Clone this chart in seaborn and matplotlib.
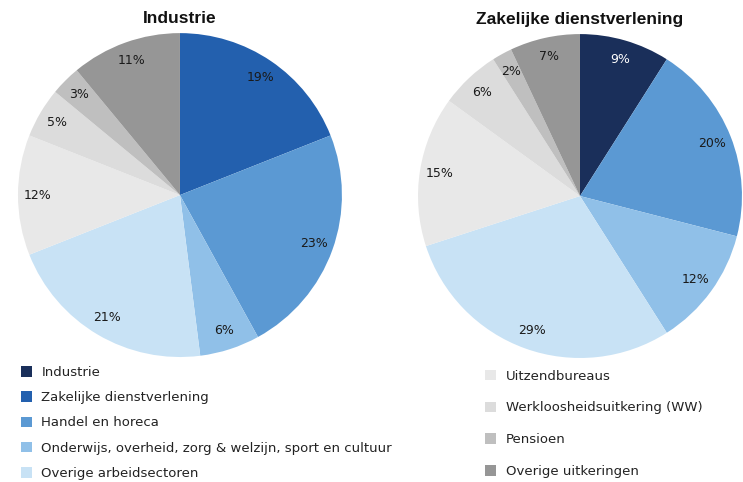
import matplotlib
matplotlib.use("Agg")
import matplotlib.pyplot as plt
from matplotlib.patches import Patch
import numpy as np
import seaborn as sns

# --- data ---
sectors = ["Industrie", "Zakelijke dienstverlening", "Handel en horeca",
           "Onderwijs, overheid, zorg & welzijn, sport en cultuur",
           "Overige arbeidsectoren"]
benefits = ["Uitzendbureaus", "Werkloosheidsuitkering (WW)", "Pensioen",
            "Overige uitkeringen"]
categories = sectors + benefits

industrie = [0, 19, 23, 6, 21, 12, 5, 3, 11]
zakelijk = [9, 0, 20, 12, 29, 15, 6, 2, 7]

titles = ["Industrie", "Zakelijke dienstverlening"]

colors = ["#1a2f5a", "#2360ae", "#5b99d3", "#90c0e8", "#c8e2f5",
          "#e8e8e8", "#dcdcdc", "#bfbfbf", "#969696"]
label_colors = ["white"] + ["#1a1a1a"] * 8

sns.set_theme(style="white")
plt.rcParams["font.family"] = ["DejaVu Sans"]

fig = plt.figure(figsize=(7.43, 4.82), dpi=100)

positions = [[0.0242, 0.2593, 0.436, 0.672], [0.5626, 0.2573, 0.436, 0.672]]

for pos, vals, title in zip(positions, [industrie, zakelijk], titles):
    ax = fig.add_axes(pos)
    idx = [i for i, v in enumerate(vals) if v > 0]
    wedges, texts = ax.pie([vals[i] for i in idx],
                           colors=[colors[i] for i in idx],
                           startangle=90, counterclock=False, radius=1,
                           wedgeprops=dict(linewidth=0))
    # percentage labels
    for w, i in zip(wedges, idx):
        ang = np.deg2rad((w.theta1 + w.theta2) / 2)
        ax.text(0.88 * np.cos(ang), 0.88 * np.sin(ang), f"{vals[i]}%",
                ha="center", va="center", fontsize=9,
                color=label_colors[i])
    ax.set_xlim(-1, 1)
    ax.set_ylim(-1, 1)
    ax.set_aspect("auto")
    ax.axis("off")
    ax.text(0, 1.045, title, ha="center", va="bottom", fontsize=12.5,
            fontweight="bold", family="Liberation Sans", color="#111111")

handles_left = [Patch(facecolor=colors[i], edgecolor="none") for i in range(5)]
handles_right = [Patch(facecolor=colors[i], edgecolor="none") for i in range(5, 9)]

leg_kw = dict(frameon=False, fontsize=9.5, handlelength=0.85, handleheight=0.85,
              handletextpad=0.7, borderpad=0, borderaxespad=0,
              loc="upper left", labelcolor="#222222")
fig.legend(handles_left, sectors, bbox_to_anchor=(0.028, 0.241),
           labelspacing=0.93, **leg_kw)
fig.legend(handles_right, benefits, bbox_to_anchor=(0.653, 0.233),
           labelspacing=1.42, **leg_kw)

fig.savefig("out.png", dpi=100)
